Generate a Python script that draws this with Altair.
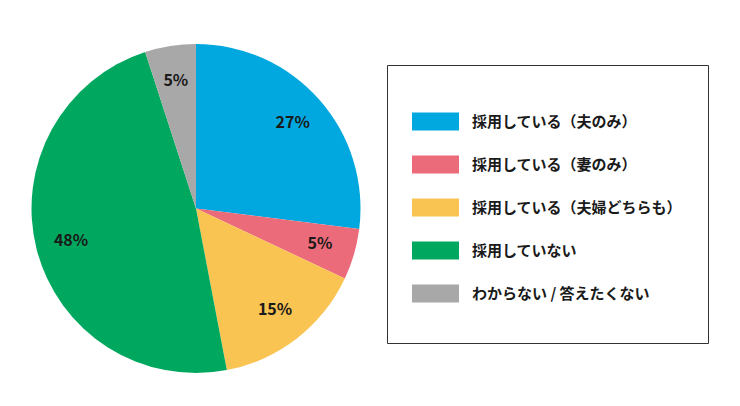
import altair as alt
import pandas as pd

categories = [
    "採用している（夫のみ）",
    "採用している（妻のみ）",
    "採用している（夫婦どちらも）",
    "採用していない",
    "わからない / 答えたくない",
]
values = [27, 5, 15, 48, 5]
labels = ["27%", "5%", "15%", "48%", "5%"]
colors = ["#00A8DF", "#EC6B7A", "#F9C452", "#00A85F", "#A8A8A8"]

df = pd.DataFrame({
    "cat": categories,
    "val": values,
    "label": labels,
    "idx": list(range(len(categories))),
})

FONT = "Noto Sans CJK JP"
CX, CY, R = 188, 200.5, 164.5

SWATCH = "M-1,-0.383L1,-0.383L1,0.383L-1,0.383Z"
SWATCH_LAST = SWATCH + "M0,1.03L0,1.03"
shape_expr = f"datum.index === {len(categories) - 1} ? '{SWATCH_LAST}' : '{SWATCH}'"

base = alt.Chart(df).encode(
    theta=alt.Theta("val:Q", stack=True),
    order=alt.Order("idx:Q"),
)

pie = base.mark_arc(radius=R).encode(
    x=alt.value(CX),
    y=alt.value(CY),
    color=alt.Color(
        "cat:N",
        scale=alt.Scale(domain=categories, range=colors),
        sort=categories,
        legend=alt.Legend(
            title=" ",
            titleFontSize=1,
            titlePadding=7,
            orient="none",
            legendX=379,
            legendY=57,
            padding=25,
            strokeColor="#333333",
            symbolType={"expr": shape_expr},
            symbolSize=2209,
            symbolStrokeWidth=0,
            symbolOpacity=1,
            labelFont=FONT,
            labelFontSize=15,
            labelFontWeight="bold",
            labelColor="#1a1a1a",
            labelOffset=13,
            labelLimit=400,
            rowPadding=10,
        ),
    ),
)

text = base.mark_text(
    radius=129,
    font=FONT,
    fontSize=16,
    fontWeight="bold",
    color="#1a1a1a",
).encode(
    x=alt.value(CX),
    y=alt.value(CY),
    text="label:N",
)

chart = (
    alt.layer(pie, text)
    .properties(width=724, height=388, padding=0)
    .configure_view(strokeWidth=0, stroke="transparent")
)

chart.save("out.html", embed_options={"renderer": "svg", "actions": False})
